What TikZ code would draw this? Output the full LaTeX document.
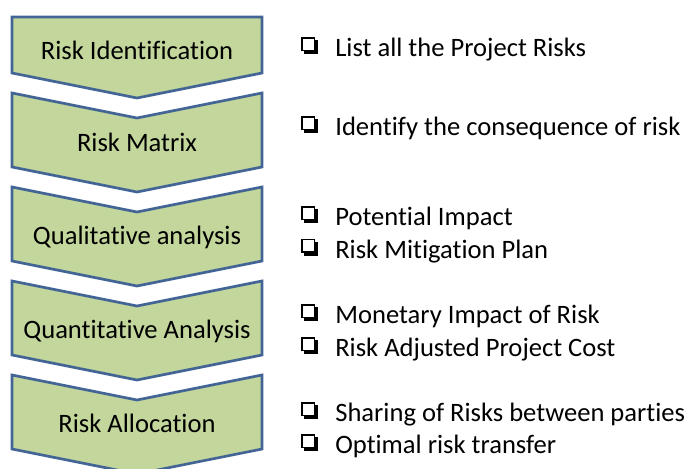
\documentclass[tikz,border=0pt]{standalone}
\usepackage{fontspec}
\setmainfont[Ligatures=NoCommon]{Carlito}
\definecolor{chevfill}{RGB}{195,214,155}
\definecolor{chevline}{RGB}{66,101,150}
% shadowed check box in front of each item
\newcommand{\chk}{\makebox[24.2pt][l]{\setlength{\unitlength}{1pt}\begin{picture}(12.1,13.7)
	\put(2.1,1.6){\rule{10pt}{10pt}}
	\put(0,3.7){\color{white}\rule{10pt}{10pt}}
	\put(0,3.7){\rule{10pt}{1pt}}
	\put(0,12.7){\rule{10pt}{1pt}}
	\put(0,3.7){\rule{1pt}{10pt}}
	\put(9,3.7){\rule{1pt}{10pt}}
\end{picture}}}
\tikzset{
	chevron/.style={draw=chevline, fill=chevfill, line width=1.9pt, line join=miter},
	stage/.style={anchor=base, inner sep=0pt, font=\fontsize{18.9}{22}\selectfont},
	item/.style={anchor=base west, inner sep=0pt, font=\fontsize{18.9}{22}\selectfont}
}

\begin{document}
\begin{tikzpicture}[x=0.025cm, y=-0.025cm]
			%%%%% START %%%%%
			\path[use as bounding box, clip] (0, 0) rectangle (688, 468);
			
			\draw[chevron] (12, 17) -- (262, 17) -- (262, 73) -- (137, 98) -- (12, 73) -- cycle;
			\node[stage] (ident) at (137, 59) {Risk Identification};
			
			\draw[chevron] (12, 93) -- (137, 118) -- (262, 93) -- (262, 167) -- (137, 192) -- (12, 167) -- cycle;
			\node[stage] (matrix) at (137, 151.5) {Risk Matrix};
			
			\draw[chevron] (12, 187) -- (137, 212) -- (262, 187) -- (262, 261) -- (137, 286) -- (12, 261) -- cycle;
			\node[stage] (quali) at (137, 244) {Qualitative analysis};
			
			\draw[chevron] (12, 281) -- (137, 306) -- (262, 281) -- (262, 355) -- (137, 380) -- (12, 355) -- cycle;
			\node[stage] (quanti) at (137, 338) {Quantitative Analysis};
			
			\draw[chevron] (12, 375) -- (137, 400) -- (262, 375) -- (262, 449) -- (137, 474) -- (12, 449) -- cycle;
			\node[stage] (alloc) at (137, 432) {Risk Allocation};
			
			% checklist
			\node[item] (list) at (301, 56.5) {\chk List all the Project Risks};
			\node[item] (conseq) at (301, 135.5) {\chk Identify the consequence of risk};
			
			\node[item] (impact) at (301, 225.5) {\chk Potential Impact};
			\node[item] (mitig) at (301, 258) {\chk Risk Mitigation Plan};
			
			\node[item] (monetary) at (301, 323.5) {\chk Monetary Impact of Risk};
			\node[item] (adjcost) at (301, 356.5) {\chk Risk Adjusted Project Cost};
			
			\node[item] (sharing) at (301, 421.5) {\chk Sharing of Risks between parties};
			\node[item] (transfer) at (301, 453.5) {\chk Optimal risk transfer};
			
			%%%%% END %%%%%
\end{tikzpicture}
\end{document}
